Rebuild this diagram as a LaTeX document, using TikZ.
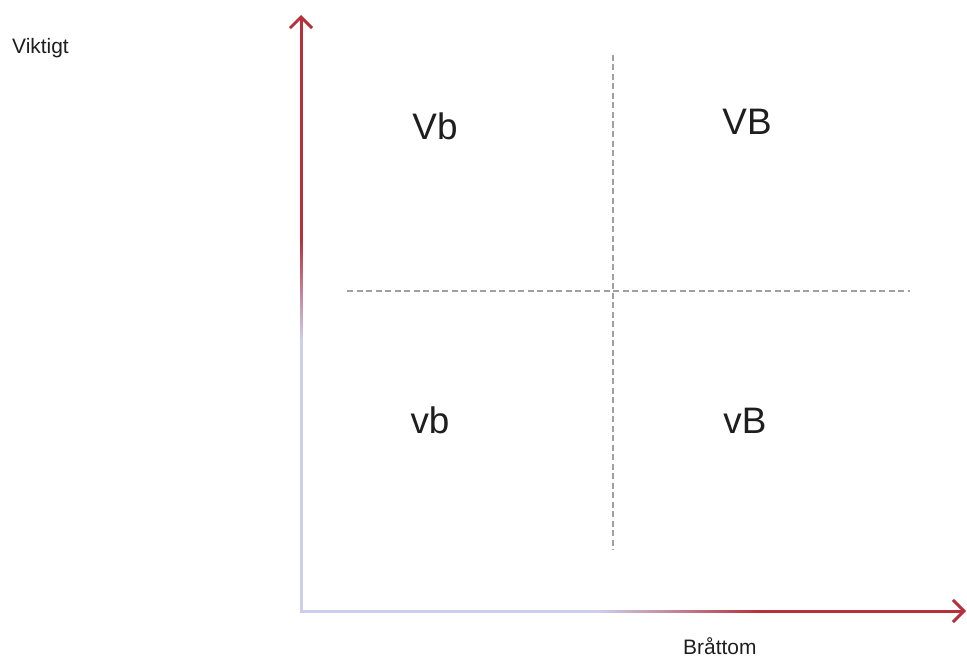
\documentclass[tikz,border=0pt]{standalone}
\usepackage{fontspec}
\setmainfont{Liberation Sans}
\usetikzlibrary{arrows.meta}
\definecolor{axred}{RGB}{183,48,58}
\definecolor{axlav}{RGB}{204,206,236}
\definecolor{dashgray}{RGB}{160,160,160}
\definecolor{txt}{RGB}{30,30,30}
\tikzset{
  quad/.style={anchor=base, inner sep=0pt, text=txt, font=\fontsize{37}{40}\selectfont},
  axlabel/.style={anchor=base west, inner sep=0pt, text=txt, font=\fontsize{21}{24}\selectfont},
  divider/.style={draw=dashgray, line width=1.2bp, dash pattern=on 6bp off 3.5bp},
  tip/.style={draw=axred, line width=3bp, -{Straight Barb[length=11bp,width=22bp,line width=3bp]}}
}
\begin{document}
\begin{tikzpicture}[x=1bp,y=-1bp]
\useasboundingbox (0,0) rectangle (967,657);
\coordinate (O) at (301,611);
\coordinate (Ytop) at (301,15);
\coordinate (Xend) at (966,611);
\coordinate (Vd1) at (613,55);
\coordinate (Vd2) at (613,550);
\coordinate (Hd1) at (347,291);
\coordinate (Hd2) at (910,291);
% vertical axis (gradient lavender -> red)
\fill[axlav] (299.5,612.5) rectangle (302.5,340);
\foreach \i in {0,...,39}{
  \pgfmathsetmacro{\pc}{(\i+0.5)*2.5}
  \pgfmathsetmacro{\ya}{340-\i*2.5}
  \pgfmathsetmacro{\yb}{340-(\i+1)*2.5-0.3}
  \fill[axred!\pc!axlav] (299.5,\ya) rectangle (302.5,\yb);
}
\fill[axred] (299.5,240) rectangle (302.5,40);
\draw[tip] (301,41) -- (Ytop);
% horizontal axis (gradient lavender -> red)
\fill[axlav] (299.5,609.5) rectangle (600,612.5);
\foreach \i in {0,...,39}{
  \pgfmathsetmacro{\pc}{(\i+0.5)*2.5}
  \pgfmathsetmacro{\xa}{600+\i*4}
  \pgfmathsetmacro{\xb}{600+(\i+1)*4+0.3}
  \fill[axred!\pc!axlav] (\xa,609.5) rectangle (\xb,612.5);
}
\fill[axred] (760,609.5) rectangle (940,612.5);
\draw[tip] (939,611) -- (Xend);
% dividers
\draw[divider] (Vd1) -- (Vd2);
\draw[divider] (Hd1) -- (Hd2);
% labels
\node[quad] (Vb) at (435,140) {Vb};
\node[quad] (VB) at (747,135) {VB};
\node[quad] (vb) at (430,433) {vb};
\node[quad] (vB) at (745,433) {vB};
\node[axlabel] (viktigt) at (12,54) {Viktigt};
\node[axlabel] (brattom) at (683,654) {Bråttom};
\end{tikzpicture}
\end{document}
